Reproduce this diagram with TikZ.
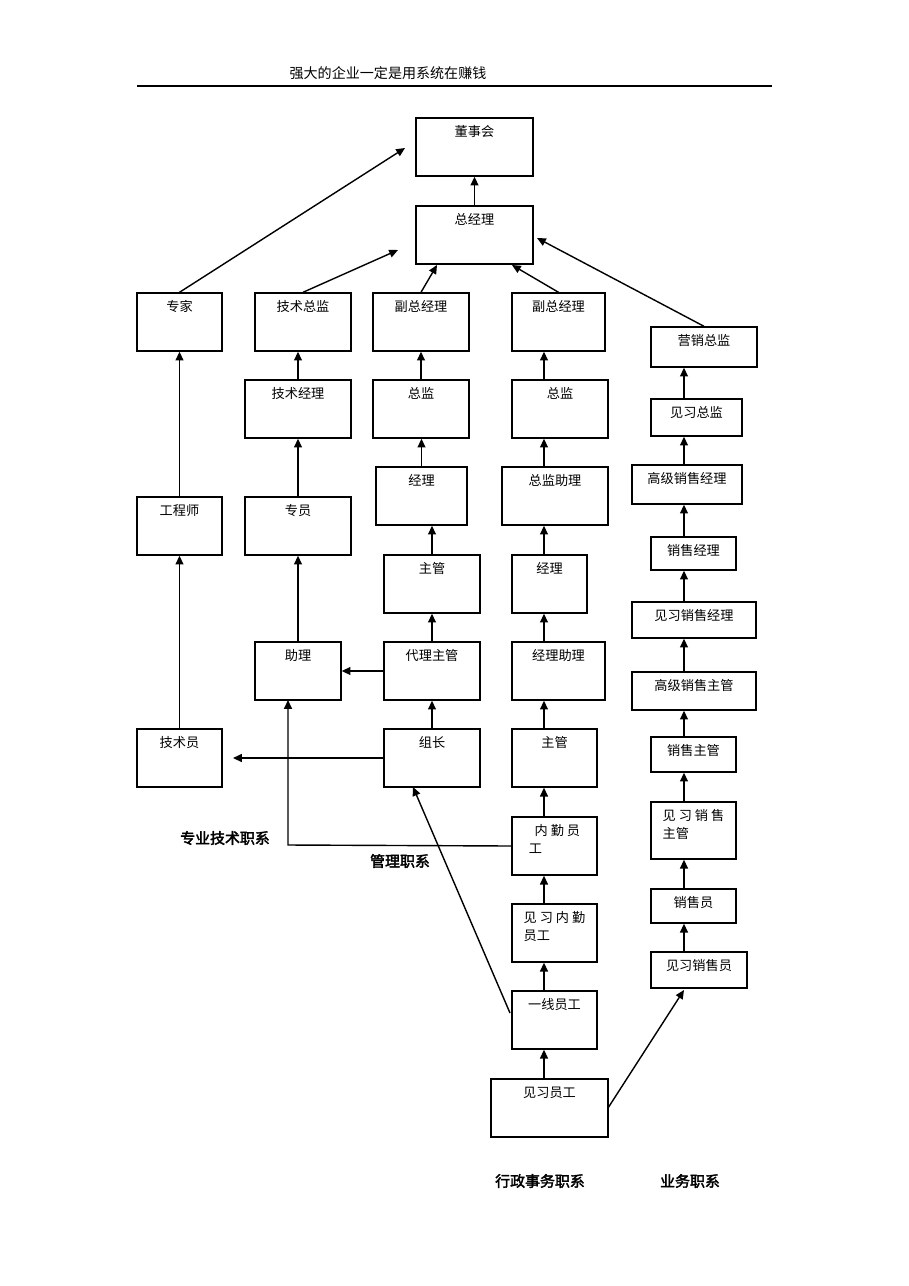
\documentclass[tikz,border=0pt]{standalone}
\usepackage{fontspec}
\newfontfamily\cjk{Noto Sans CJK SC}
\newfontfamily\cjkb[FakeBold=2.5]{Noto Sans CJK SC}
\usetikzlibrary{arrows.meta}
\tikzset{
  box/.style={draw, thick, inner sep=0pt, line width=0.8pt},
  boxtext/.style={anchor=north, align=left, inner sep=0pt, font=\cjk\fontsize{7.5}{10}\selectfont},
  grp/.style={font=\cjkb\fontsize{8.5}{10}\selectfont},
  arr/.style={-{Triangle[length=5pt,width=4.5pt]}, line width=0.8pt}
}
% box: name, x1, y1, x2, y2, text
\newcommand\bx[6]{%
  \node[box, minimum width={(#4-#2)*0.02cm}, minimum height={(#5-#3)*0.02cm}]
    (#1) at ({(#2+#4)/2},{(#3+#5)/2}) {};
  \node[boxtext] (#1-t) at ([yshift=-0.16cm]#1.north) {#6};}
\begin{document}
\begin{tikzpicture}[x=0.02cm, y=-0.02cm]
  \useasboundingbox (0,0) rectangle (909,1286);
  \node[font=\cjk\fontsize{8}{10}\selectfont] (title) at (388,73) {强大的企业一定是用系统在赚钱};
  \draw[line width=0.8pt] (137,86) coordinate (ra) -- (772,86) coordinate (rb);

  \bx{dsh}{416}{118}{533}{176}{董事会}
  \bx{zjl}{416}{206}{533}{264}{总经理}
  \bx{zj}{137}{293}{222}{351}{专家}
  \bx{jszj}{255}{293}{351}{351}{技术总监}
  \bx{fzl}{373}{293}{469}{351}{副总经理}
  \bx{fzr}{512}{293}{605}{351}{副总经理}
  \bx{yxzj}{651}{327}{757}{367}{营销总监}
  \bx{jsjl}{245}{380}{351}{438}{技术经理}
  \bx{zjianl}{373}{380}{469}{438}{总监}
  \bx{zjianr}{512}{380}{608}{438}{总监}
  \bx{jxzj}{651}{399}{742}{436}{见习总监}
  \bx{jll}{376}{467}{467}{525}{经理}
  \bx{zjzl}{502}{467}{608}{525}{总监助理}
  \bx{gjxsjl}{632}{465}{742}{504}{高级销售经理}
  \bx{gcs}{137}{497}{222}{555}{工程师}
  \bx{zy}{245}{497}{351}{555}{专员}
  \bx{xsjl}{651}{537}{736}{570}{销售经理}
  \bx{zgl}{384}{555}{480}{613}{主管}
  \bx{jlr}{512}{555}{587}{613}{经理}
  \bx{jxxsjl}{632}{602}{756}{638}{见习销售经理}
  \bx{zl}{255}{642}{341}{700}{助理}
  \bx{dlzg}{384}{642}{480}{700}{代理主管}
  \bx{jlzl}{512}{642}{605}{700}{经理助理}
  \bx{gjxszg}{632}{672}{756}{710}{高级销售主管}
  \bx{jsy}{137}{729}{222}{787}{技术员}
  \bx{zz}{384}{729}{480}{787}{组长}
  \bx{zgr}{512}{729}{597}{787}{主管}
  \bx{xszg}{651}{737}{736}{772}{销售主管}
  \bx{nqyg}{512}{817}{597}{875}{\ \ 内 勤 员\\工}
  \bx{jxxszg}{651}{802}{736}{859}{见 习 销 售\\主管}
  \bx{jxnq}{512}{904}{597}{962}{见 习 内 勤\\员工}
  \bx{xsy}{651}{889}{736}{923}{销售员}
  \bx{jxxsy}{651}{952}{747}{988}{见习销售员}
  \bx{yxyg}{512}{991}{597}{1049}{一线员工}
  \bx{jxyg}{491}{1079}{608}{1137}{见习员工}

  % top level
  \draw[arr] (zjl.north) -- (dsh.south);
  \draw[arr] (zj.north) -- (405,148);
  \draw[arr] (jszj.north) -- (398,250);
  \draw[arr] (fzl.north) -- (437,265);
  \draw[arr] (fzr.north) -- (512,265);
  \draw[arr] (yxzj.north) -- (537,238);

  % professional line
  \draw[arr] (jsjl.north) -- (jsjl.north |- jszj.south);
  \draw[arr] (zy.north) -- (zy.north |- jsjl.south);
  \draw[arr] (zl.north) -- (zl.north |- zy.south);
  \draw[arr] (gcs.north) -- (gcs.north |- zj.south);
  \draw[arr] (jsy.north) -- (jsy.north |- gcs.south);

  % management line
  \foreach \a/\b in {zjianl/fzl, jll/zjianl, zgl/jll, dlzg/zgl, zz/dlzg}
    \draw[arr] (\a.north) -- (\a.north |- \b.south);
  \draw[arr] (dlzg.west) -- (zl.east);
  \draw[arr] (zz.west) -- (233,758);
  \draw[arr] (nqyg.west) -- (288,845) -- (288,700);
  \draw[arr] (510,1013) -- (413,787);

  % administrative line
  \foreach \a/\b in {zjianr/fzr, zjzl/zjianr, jlr/zjzl, jlzl/jlr, zgr/jlzl, nqyg/zgr, jxnq/nqyg, yxyg/jxnq}
    \draw[arr] (544,0 |- \a.north) -- (544,0 |- \b.south);
  \draw[arr] (544,1079) -- (544,0 |- yxyg.south);

  % sales line
  \foreach \a/\b in {jxzj/yxzj, gjxsjl/jxzj, xsjl/gjxsjl, jxxsjl/xsjl, gjxszg/jxxsjl, xszg/gjxszg, jxxszg/xszg, xsy/jxxszg, jxxsy/xsy}
    \draw[arr] (684,0 |- \a.north) -- (684,0 |- \b.south);
  \draw[arr] (608,1108) -- (684,990);

  \node[grp] (g1) at (225,838) {专业技术职系};
  \node[grp] (g2) at (400,861) {管理职系};
  \node[grp] (g3) at (540,1181) {行政事务职系};
  \node[grp] (g4) at (690,1181) {业务职系};
\end{tikzpicture}
\end{document}
